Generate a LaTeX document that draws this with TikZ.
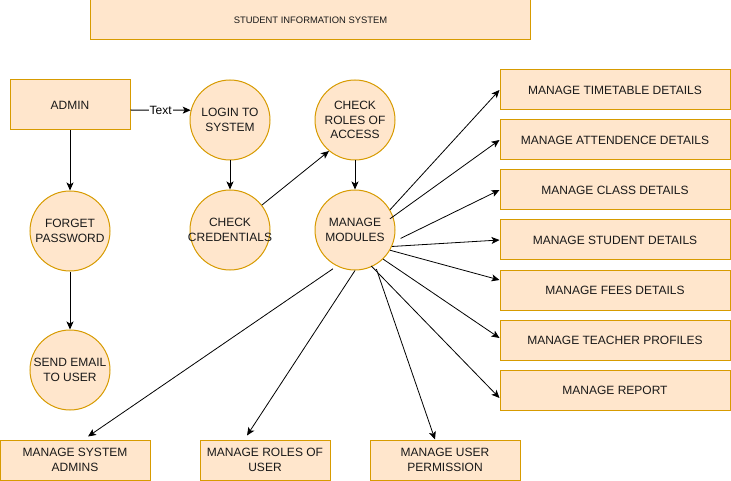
\documentclass[tikz,border=0pt]{standalone}
\usepackage{fontspec}
\setmainfont{Liberation Sans}
\usetikzlibrary{arrows.meta,calc}
\definecolor{boxfill}{HTML}{FFE6CC}
\definecolor{boxdraw}{HTML}{D79B00}
\newcommand{\zl}[1]{\makebox[0pt]{#1}}
\tikzset{
  base/.style={fill=boxfill,draw=boxdraw,line width=1pt,inner sep=0pt,align=center,font=\fontsize{12}{14.5}\selectfont,text=black!90},
  rbox/.style={base,rectangle,minimum width=#1,minimum height=40pt},
  rbox/.default=230pt,
  cnode/.style={base,circle,minimum size=80pt},
  conn/.style={line width=1pt,-{Stealth[length=8pt,width=7pt,inset=2pt]}},
  thin conn/.style={line width=0.8pt,-{Stealth[length=8pt,width=7pt,inset=2pt]}}
}
\begin{document}
\begin{tikzpicture}[x=1pt,y=-1pt]
\useasboundingbox (0,0) rectangle (731,481);
% title
\node[base,rectangle,minimum width=440pt,minimum height=40pt,font=\fontsize{9.4}{11}\selectfont] (title) at (310.5,20) {STUDENT INFORMATION SYSTEM};
% left column
\node[rbox=120pt,minimum height=50pt] (admin) at (70,105) {ADMIN};
\node[cnode] (forget) at (70,231) {\zl{FORGET}\\\zl{PASSWORD}};
\node[cnode] (send) at (70,370) {\zl{SEND EMAIL}\\\zl{TO USER}};
% middle
\node[cnode] (login) at (230,120) {\zl{LOGIN TO}\\\zl{SYSTEM}};
\node[cnode] (cred) at (230,230) {\zl{CHECK}\\\zl{CREDENTIALS}};
\node[cnode] (roles) at (355,120) {\zl{CHECK}\\\zl{ROLES OF}\\\zl{ACCESS}};
\node[cnode] (mm) at (355,230) {\zl{MANAGE}\\\zl{MODULES}};
% right boxes
\node[rbox] (tt) at (615,90) {MANAGE TIMETABLE DETAILS};
\node[rbox] (att) at (615,140) {MANAGE ATTENDENCE DETAILS};
\node[rbox] (cls) at (615,190) {MANAGE CLASS DETAILS};
\node[rbox] (stu) at (615,240) {MANAGE STUDENT DETAILS};
\node[rbox] (fees) at (615,290) {MANAGE FEES DETAILS};
\node[rbox] (tea) at (615,340) {MANAGE TEACHER PROFILES};
\node[rbox] (rep) at (615,390) {MANAGE REPORT};
% bottom boxes
\node[rbox=150pt] (sys) at (75,460) {MANAGE SYSTEM\\ADMINS};
\node[rbox=130pt] (rou) at (265,460) {MANAGE ROLES OF\\USER};
\node[rbox=150pt] (perm) at (445,460) {MANAGE USER\\PERMISSION};
% connectors
\draw[conn] ([yshift=-5pt]admin.east) -- node[fill=white,inner sep=1pt,font=\fontsize{12}{14}\selectfont]{Text} (login.166);
\draw[conn] (admin.south) -- (forget.north);
\draw[conn] (forget.south) -- (send.north);
\draw[conn] (login.south) -- (cred.north);
\draw[thin conn] (cred.38) -- (roles.230);
\draw[conn] (roles.south) -- (mm.north);
\draw[thin conn] (mm.30) -- (tt.west);
\draw[thin conn] ([xshift=-4pt]mm.16) -- (att.west);
\draw[thin conn] ([xshift=6pt]mm.-12) -- (cls.west);
\draw[thin conn] (mm.-24) -- (stu.west);
\draw[thin conn] (mm.-30) -- ([yshift=10pt]fees.west);
\draw[thin conn] (mm.-46) -- ([yshift=2pt]tea.west);
\draw[thin conn] ([xshift=-2pt]mm.-63) -- ([yshift=-8pt]rep.west);
\draw[thin conn] ([xshift=3pt,yshift=-3pt]mm.-63) -- ([xshift=-10pt]perm.north);
\draw[thin conn] (mm.south) -- ([xshift=-18pt,yshift=4pt]rou.north);
\draw[thin conn] ([xshift=-3pt,yshift=-3pt]mm.-118) -- ([xshift=13pt,yshift=3pt]sys.north);
\end{tikzpicture}
\end{document}
